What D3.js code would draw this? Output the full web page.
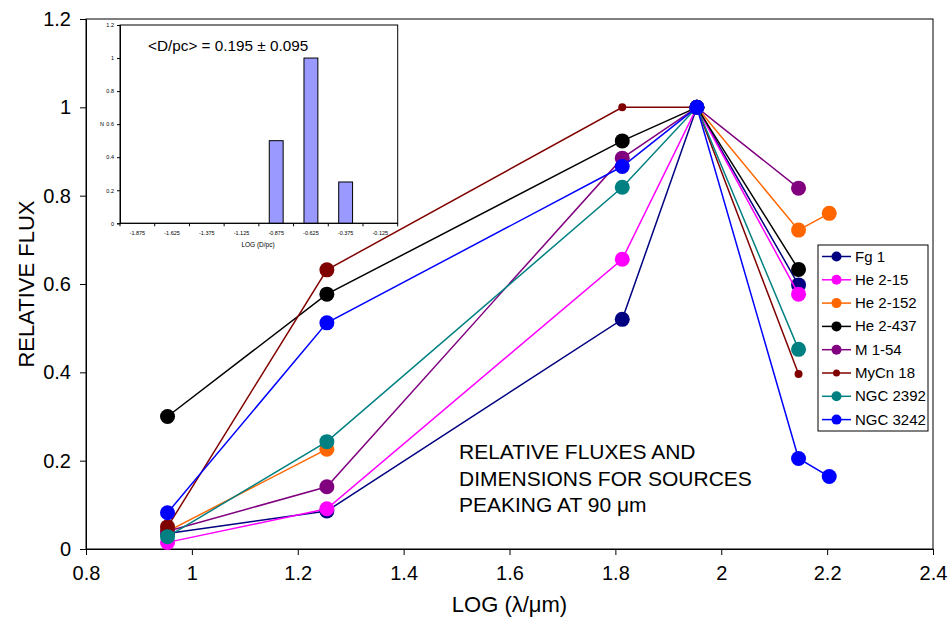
<!DOCTYPE html>
<html>
<head>
<meta charset="utf-8">
<script src="https://cdn.jsdelivr.net/npm/d3@7"></script>
<style>
  body { margin: 0; background: #fff; }
  text { font-family: "Liberation Sans", Arial, sans-serif; }
</style>
</head>
<body>
<div id="chart"></div>
<script>
// log wavelengths of the bands (9, 18, 65, 90, 140, 160 micron)
const logLambda = [0.954, 1.255, 1.813, 1.954, 2.146, 2.204];

// relative fluxes per source (null = no measurement)
const fg1     = [0.035, 0.086, 0.520, 1, 0.598, null];
const he215   = [0.015, 0.091, 0.656, 1, 0.577, null];
const he2152  = [0.040, 0.226, null,  1, 0.722, 0.760];
const he2437  = [0.300, 0.577, 0.924, 1, 0.633, null];
const m154    = [0.040, 0.141, 0.885, 1, 0.817, null];
const mycn18  = [0.050, 0.632, 1.000, 1, 0.396, null];
const ngc2392 = [0.028, 0.243, 0.819, 1, 0.452, null];
const ngc3242 = [0.082, 0.512, 0.866, 1, 0.205, 0.164];

const seriesNames = ["Fg 1", "He 2-15", "He 2-152", "He 2-437", "M 1-54", "MyCn 18", "NGC 2392", "NGC 3242"];
const seriesValues = [fg1, he215, he2152, he2437, m154, mycn18, ngc2392, ngc3242];
const seriesColors = ["#000080", "#ff00ff", "#ff6600", "#000000", "#800080", "#800000", "#008080", "#0000ff"];

const xTicks = [0.8, 1, 1.2, 1.4, 1.6, 1.8, 2, 2.2, 2.4];
const yTicks = [0, 0.2, 0.4, 0.6, 0.8, 1, 1.2];

// inset histogram
const insetBins = ["-1.875", "-1.625", "-1.375", "-1.125", "-0.875", "-0.625", "-0.375", "-0.125"];
const insetCounts = [0, 0, 0, 0, 0.5, 1, 0.25, 0];
const insetYTicks = [0, 0.2, 0.4, 0.6, 0.8, 1, 1.2];

const width = 951, height = 626;
const margin = { top: 19, right: 18, bottom: 77, left: 86 };

const svg = d3.select("#chart").append("svg")
    .attr("width", width)
    .attr("height", height);

svg.append("rect").attr("width", width).attr("height", height).attr("fill", "#fff");

const x = d3.scaleLinear().domain([0.8, 2.4]).range([margin.left, width - margin.right]);
const y = d3.scaleLinear().domain([0, 1.2]).range([height - margin.bottom, margin.top]);

// plot frame
svg.append("rect")
    .attr("x", x(0.8)).attr("y", y(1.2))
    .attr("width", x(2.4) - x(0.8)).attr("height", y(0) - y(1.2))
    .attr("fill", "none").attr("stroke", "#000").attr("stroke-width", 1);

// axes
const xAxis = svg.append("g")
    .attr("transform", `translate(0,${y(0)})`)
    .call(d3.axisBottom(x).tickValues(xTicks).tickSize(6).tickPadding(11).tickFormat(d3.format("")));
const yAxis = svg.append("g")
    .attr("transform", `translate(${x(0.8)},0)`)
    .call(d3.axisLeft(y).tickValues(yTicks).tickSize(6).tickPadding(9).tickFormat(d3.format("")));
[xAxis, yAxis].forEach(g => {
    g.select(".domain").attr("stroke", "#000");
    g.selectAll(".tick line").attr("stroke", "#000");
    g.selectAll(".tick text").attr("font-size", "20px").attr("fill", "#000")
        .style("font-family", "'Liberation Sans', Arial, sans-serif");
});

// axis titles
svg.append("text")
    .attr("x", (x(0.8) + x(2.4)) / 2)
    .attr("y", 612)
    .attr("text-anchor", "middle")
    .attr("font-size", "22px")
    .text("LOG (λ/μm)");

svg.append("text")
    .attr("transform", `translate(34,${(y(0) + y(1.2)) / 2}) rotate(-90)`)
    .attr("text-anchor", "middle")
    .attr("font-size", "22px")
    .text("RELATIVE FLUX");

// series lines and markers
const line = d3.line()
    .defined(d => d[1] !== null)
    .x(d => x(d[0]))
    .y(d => y(d[1]));

seriesValues.forEach((vals, i) => {
    const pts = vals.map((v, j) => [logLambda[j], v, j]);
    // MyCn 18 uses small markers except for its two short-wavelength points
    const radius = d => (seriesNames[i] === "MyCn 18" && d[2] > 1) ? 4 : 7.5;
    svg.append("path")
        .datum(pts)
        .attr("fill", "none")
        .attr("stroke", seriesColors[i])
        .attr("stroke-width", 1.5)
        .attr("d", line);
    svg.append("g").selectAll("circle")
        .data(pts.filter(d => d[1] !== null))
        .join("circle")
        .attr("cx", d => x(d[0]))
        .attr("cy", d => y(d[1]))
        .attr("r", radius)
        .attr("fill", seriesColors[i]);
});

// annotation
const note = svg.append("text")
    .attr("x", 459)
    .attr("y", 459)
    .attr("font-size", "21px");
["RELATIVE FLUXES AND", "DIMENSIONS FOR SOURCES", "PEAKING AT 90 μm"].forEach((t, i) => {
    note.append("tspan").attr("x", 459).attr("dy", i === 0 ? 0 : 26.5).text(t);
});

// inset histogram
const ix = d3.scaleBand().domain(insetBins).range([120, 397.7]);
const iy = d3.scaleLinear().domain([0, 1.2]).range([223.3, 25]);
const inset = svg.append("g");

inset.append("rect")
    .attr("x", 120).attr("y", iy(1.2))
    .attr("width", 277.7).attr("height", iy(0) - iy(1.2))
    .attr("fill", "none").attr("stroke", "#000").attr("stroke-width", 1);

const barW = ix.bandwidth() * 0.4;
inset.selectAll(".bar")
    .data(insetBins.map((b, i) => [b, insetCounts[i]]).filter(d => d[1] > 0))
    .join("rect")
    .attr("class", "bar")
    .attr("x", d => ix(d[0]) + ix.bandwidth() / 2 - barW / 2)
    .attr("y", d => iy(d[1]))
    .attr("width", barW)
    .attr("height", d => iy(0) - iy(d[1]))
    .attr("fill", "#9999ff")
    .attr("stroke", "#000")
    .attr("stroke-width", 1);

// inset x axis: ticks on bin boundaries, labels centred
const ixAxis = inset.append("g").attr("transform", `translate(0,${iy(0)})`);
ixAxis.append("line").attr("x1", 120).attr("x2", 397.7).attr("stroke", "#000");
ixAxis.selectAll(".tk")
    .data(insetBins.concat(["end"]))
    .join("line")
    .attr("x1", (d, i) => 120 + i * ix.step())
    .attr("x2", (d, i) => 120 + i * ix.step())
    .attr("y1", 0).attr("y2", 3)
    .attr("stroke", "#000");
ixAxis.selectAll(".lb")
    .data(insetBins)
    .join("text")
    .attr("x", d => ix(d) + ix.bandwidth() / 2)
    .attr("y", 12)
    .attr("text-anchor", "middle")
    .attr("font-size", "5.5px")
    .text(d => d);

const iyAxis = inset.append("g")
    .attr("transform", "translate(120,0)")
    .call(d3.axisLeft(iy).tickValues(insetYTicks).tickSize(3).tickPadding(3).tickFormat(d3.format("")));
iyAxis.select(".domain").attr("stroke", "#000");
iyAxis.selectAll(".tick text").attr("font-size", "5.5px").attr("fill", "#000")
    .style("font-family", "'Liberation Sans', Arial, sans-serif");

inset.append("text")
    .attr("x", 100).attr("y", iy(0.6) + 2)
    .attr("font-size", "5.5px")
    .text("N");

inset.append("text")
    .attr("x", 258).attr("y", 247)
    .attr("text-anchor", "middle")
    .attr("font-size", "6.5px")
    .text("LOG (D/pc)");

inset.append("text")
    .attr("x", 148).attr("y", 51)
    .attr("font-size", "15.3px")
    .text("<D/pc> = 0.195 ± 0.095");

// legend
const legend = svg.append("g");
legend.append("rect")
    .attr("x", 818).attr("y", 245)
    .attr("width", 110).attr("height", 186)
    .attr("fill", "#fff").attr("stroke", "#000").attr("stroke-width", 1);

seriesNames.forEach((name, i) => {
    const ly = 256.5 + i * 23.3;
    legend.append("line")
        .attr("x1", 822).attr("x2", 851)
        .attr("y1", ly).attr("y2", ly)
        .attr("stroke", seriesColors[i]).attr("stroke-width", 1.5);
    legend.append("circle")
        .attr("cx", 836.5).attr("cy", ly)
        .attr("r", name === "MyCn 18" ? 3.5 : 5)
        .attr("fill", seriesColors[i]);
    legend.append("text")
        .attr("x", 855).attr("y", ly + 5)
        .attr("font-size", "15px")
        .text(name);
});
</script>
</body>
</html>
